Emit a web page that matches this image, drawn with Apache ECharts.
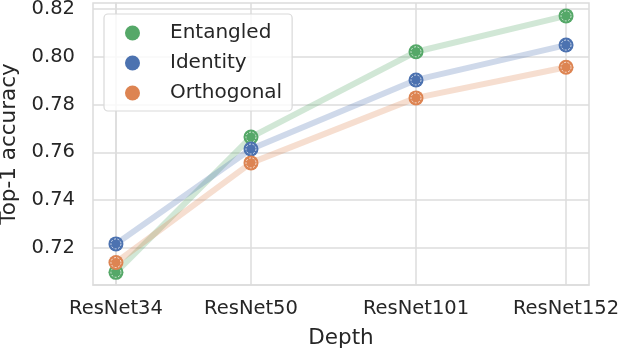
<!DOCTYPE html>
<html>
<head>
<meta charset="utf-8">
<script src="https://cdn.jsdelivr.net/npm/echarts@6/dist/echarts.min.js"></script>
<style>
  html, body { margin: 0; padding: 0; background: #ffffff; }
  #chart { width: 620px; height: 354px; }
</style>
</head>
<body>
<div id="chart"></div>
<script>
// ---- data ----
const categories = ['ResNet34', 'ResNet50', 'ResNet101', 'ResNet152'];
const xPositions = [0, 0.9, 2.0, 3.0];
const entangled = [0.7098, 0.7664, 0.8021, 0.8171];
const identity = [0.7217, 0.7614, 0.7903, 0.8049];
const orthogonal = [0.7139, 0.7556, 0.7828, 0.7956];
const yTicks = [0.72, 0.74, 0.76, 0.78, 0.80, 0.82];
const seriesNames = ['Entangled', 'Identity', 'Orthogonal'];

const colors = ['#55a868', '#4c72b0', '#dd8452'];
const seriesValues = [entangled, identity, orthogonal];
const FONT = 'DejaVu Sans';
const TEXT = '#262626';
const GRID = '#dcdcdc';

function pairs(vals) {
  return vals.map((v, i) => [xPositions[i], v]);
}

const series = [];
seriesValues.forEach((vals, k) => {
  series.push({
    name: seriesNames[k],
    type: 'line',
    data: pairs(vals),
    symbol: 'circle',
    symbolSize: 15,
    showSymbol: true,
    itemStyle: { color: colors[k] },
    lineStyle: { color: colors[k], width: 6, opacity: 0.27 },
    emphasis: { disabled: true },
    animation: false,
    z: 2 + k * 2
  });
  series.push({
    name: seriesNames[k],
    type: 'scatter',
    data: pairs(vals),
    symbol: 'circle',
    symbolSize: 10,
    itemStyle: { color: colors[k], borderColor: 'rgba(255,255,255,0.9)', borderWidth: 1, borderType: [2, 1.5] },
    emphasis: { disabled: true },
    animation: false,
    z: 3 + k * 2
  });
});

const chart = echarts.init(document.getElementById('chart'), null, { renderer: 'canvas' });
chart.setOption({
  backgroundColor: '#ffffff',
  animation: false,
  grid: {
    left: 93, right: 31, top: 3, bottom: 69,
    containLabel: false,
    outerBoundsMode: 'none',
    show: true, borderColor: GRID, borderWidth: 1.5, backgroundColor: 'transparent'
  },
  legend: {
    data: seriesNames,
    orient: 'vertical',
    left: 104, top: 14,
    icon: 'circle',
    itemWidth: 15, itemHeight: 15,
    itemGap: 10,
    padding: [9, 10, 8, 21],
    backgroundColor: 'rgba(255,255,255,0.8)',
    borderColor: '#d9d9d9', borderWidth: 1.2, borderRadius: 4,
    textStyle: { fontFamily: FONT, fontSize: 20, color: TEXT, lineHeight: 20, padding: [0, 0, 0, 25] },
    selectedMode: false
  },
  xAxis: {
    type: 'value',
    min: -0.153, max: 3.153,
    name: 'Depth',
    nameLocation: 'middle',
    nameGap: 42,
    nameTextStyle: { fontFamily: FONT, fontSize: 21.5, color: TEXT },
    axisLine: { show: true, lineStyle: { color: GRID, width: 1.5 } },
    axisTick: { show: false, customValues: xPositions },
    axisLabel: {
      customValues: xPositions,
      fontFamily: FONT, fontSize: 19.5, color: TEXT, margin: 14,
      hideOverlap: false,
      formatter: function (v) {
        for (let i = 0; i < xPositions.length; i++) {
          if (Math.abs(xPositions[i] - v) < 1e-6) return categories[i];
        }
        return '';
      }
    },
    splitLine: { show: true, customValues: xPositions, lineStyle: { color: GRID, width: 1.5 } }
  },
  yAxis: {
    type: 'value',
    min: 0.7045, max: 0.8225,
    name: 'Top-1 accuracy',
    nameLocation: 'middle',
    nameGap: 70,
    nameTextStyle: { fontFamily: FONT, fontSize: 21.5, color: TEXT },
    axisLine: { show: true, lineStyle: { color: GRID, width: 1.5 } },
    axisTick: { show: false, customValues: yTicks },
    axisLabel: {
      customValues: yTicks,
      fontFamily: FONT, fontSize: 19.5, color: TEXT, margin: 18,
      formatter: function (v) { return v.toFixed(2); }
    },
    splitLine: { show: true, customValues: yTicks, lineStyle: { color: GRID, width: 1.5 } }
  },
  series: series
});
</script>
</body>
</html>
